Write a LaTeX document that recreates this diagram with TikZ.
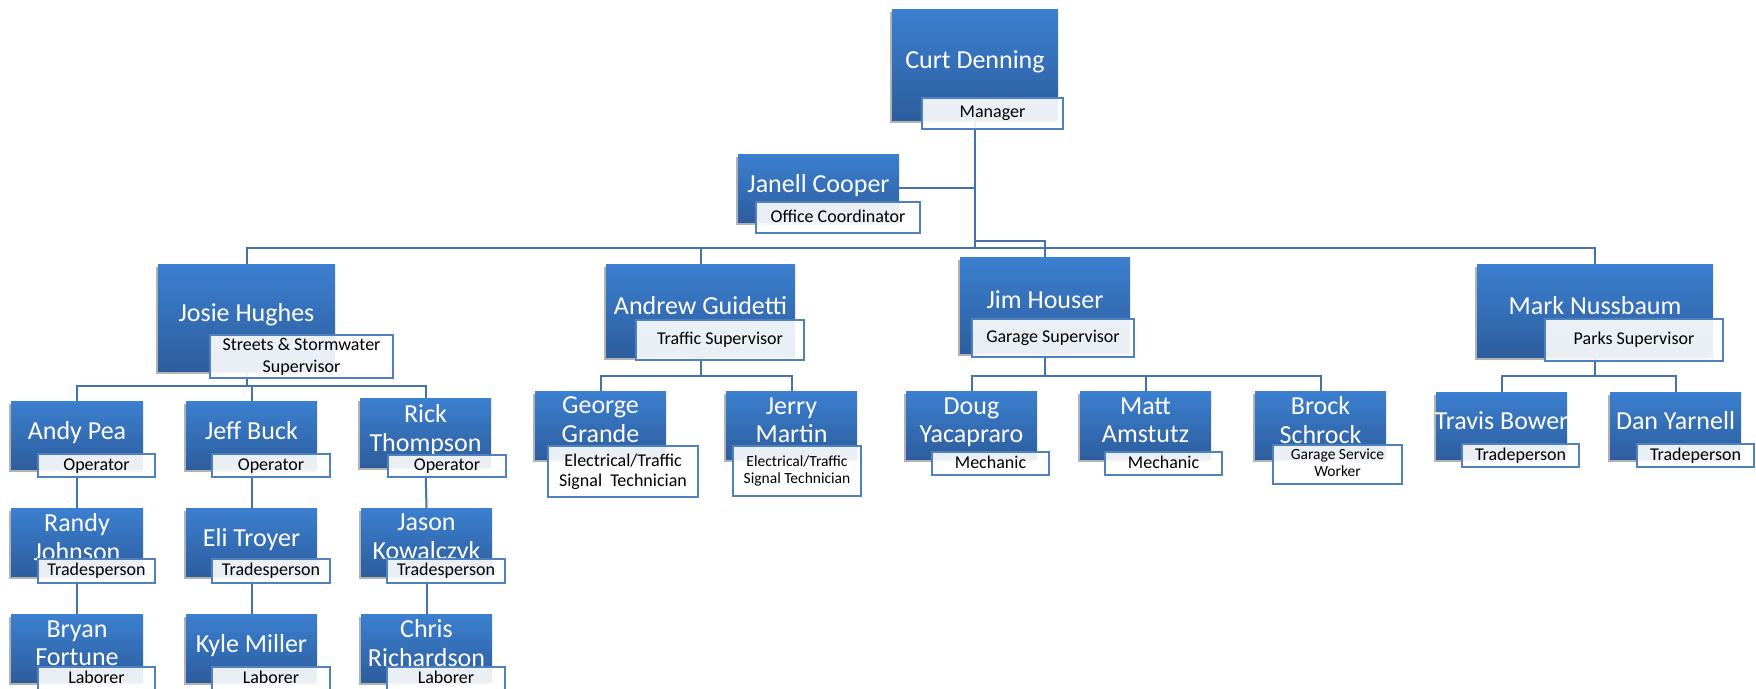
\documentclass[tikz,border=0pt]{standalone}
\usepackage{fontspec}
\setmainfont{Carlito}
\usetikzlibrary{shadows}
\pgfdeclarelayer{bg}
\pgfsetlayers{bg,main}
\definecolor{boxtop}{RGB}{60,128,208}
\definecolor{boxbot}{RGB}{45,93,158}
\definecolor{lblline}{RGB}{79,129,189}
\definecolor{connc}{RGB}{70,114,172}
\newcommand\fnm{\fontsize{26}{28}\selectfont}
\newcommand\flb{\fontsize{18}{22}\selectfont}
\newcommand\flbb{\fontsize{18}{20}\selectfont}
\newcommand\fsm{\fontsize{15.5}{17}\selectfont}
\newcommand\nmst{\rule[-10pt]{0pt}{26pt}}
\newcommand\lbst{\rule[-3pt]{0pt}{15pt}}
\newcommand\smst{\rule[-3pt]{0pt}{13pt}}
\tikzset{
  pbox/.style={rectangle, inner sep=0pt, draw=none, top color=boxtop, bottom color=boxbot,
    drop shadow={shadow xshift=-2.5pt, shadow yshift=-3pt, opacity=0.3, fill=black}},
  pname/.style={inner sep=0pt, text=white, font=\fnm, align=center},
  plabel/.style={rectangle, inner sep=0pt, draw=lblline, line width=1.5pt, fill=white,
    fill opacity=0.9, text opacity=1, text=black, font=\flb, align=center},
  conn/.style={draw=connc, line width=2pt},
}
\newcommand\person[6]{%
  \node[pbox, minimum width={(#4-#2)*1pt}, minimum height={(#5-#3)*1pt}] (#1) at ({(#2+#4)/2},{(#3+#5)/2}) {};
  \node[pname] (#1n) at (#1.center) {#6};}
\newcommand\plab[7][]{%
  \node[plabel, #1, minimum width={(#5-#3)*1pt}, minimum height={(#6-#4)*1pt}] (#2) at ({(#3+#5)/2},{(#4+#6)/2}) {#7};}
\begin{document}
\begin{tikzpicture}[x=1pt, y=-1pt]
\useasboundingbox (0,0) rectangle (1756,688);
\clip (0,0) rectangle (1756,688);

% level 0-1
\person{curt}{892}{9}{1058}{120}{\nmst Curt Denning}
\plab{curtL}{922}{98}{1063}{129}{\lbst Manager}
\person{janell}{738}{154}{899}{222}{\nmst Janell Cooper}
\plab{janellL}{756}{202}{920}{233}{\lbst Office Coordinator}
\person{josie}{158}{264}{335}{371}{\nmst Josie Hughes}
\plab{josieL}{210}{335}{393}{378}{\lbst Streets \& Stormwater\\\lbst Supervisor}
\person{andrew}{606}{264}{795}{357}{\nmst Andrew Guidetti}
\plab{andrewL}{636}{320}{804}{360}{\lbst Traffic Supervisor}
\person{jim}{960}{257}{1130}{353}{\nmst Jim Houser}
\plab{jimL}{972}{319}{1134}{357}{\lbst Garage Supervisor}
\person{mark}{1477}{264}{1713}{357}{\nmst Mark Nussbaum}
\plab{markL}{1545}{319}{1723}{361}{\lbst Parks Supervisor}

% level 2
\person{andy}{11}{401}{143}{469}{\nmst Andy Pea}
\plab{andyL}{38}{454}{155}{477}{\lbst Operator}
\person{jeff}{186}{401}{317}{469}{\nmst Jeff Buck}
\plab{jeffL}{212}{454}{330}{477}{\lbst Operator}
\person{rick}{360}{398}{491}{467}{\nmst Rick\\\nmst Thompson}
\plab{rickL}{388}{455}{506}{477}{\lbst Operator}
\person{george}{535}{391}{666}{459}{\nmst George\\\nmst Grande}
\plab[font=\flbb]{georgeL}{548}{446}{698}{497}{\lbst Electrical/Traffic\\\lbst Signal\ \ Technician}
\person{jerry}{726}{391}{857}{459}{\nmst Jerry\\\nmst Martin}
\plab[font=\fsm]{jerryL}{733}{446}{861}{496}{\smst Electrical/Traffic\\\smst Signal Technician}
\person{doug}{906}{391}{1037}{459}{\nmst Doug\\\nmst Yacapraro}
\plab{dougL}{932}{452}{1049}{475}{\lbst Mechanic}
\person{matt}{1080}{391}{1211}{459}{\nmst Matt\\\nmst Amstutz}
\plab{mattL}{1105}{452}{1222}{475}{\lbst Mechanic}
\person{brock}{1255}{391}{1386}{459}{\nmst Brock\\\nmst Schrock}
\plab[font=\fsm]{brockL}{1273}{445}{1402}{484}{\smst Garage Service\\\smst Worker}
\person{travis}{1436}{392}{1567}{459}{\nmst Travis Bower}
\plab{travisL}{1462}{444}{1579}{467}{\lbst Tradeperson}
\person{dan}{1610}{392}{1741}{459}{\nmst Dan Yarnell}
\plab{danL}{1637}{444}{1754}{467}{\lbst Tradeperson}

% level 3-4
\person{randy}{11}{508}{143}{576}{\nmst Randy\\\nmst Johnson}
\plab{randyL}{38}{559}{155}{583}{\lbst Tradesperson}
\person{eli}{186}{508}{317}{576}{\nmst Eli Troyer}
\plab{eliL}{212}{559}{330}{583}{\lbst Tradesperson}
\person{jason}{361}{508}{492}{576}{\nmst Jason\\\nmst Kowalczyk}
\plab{jasonL}{387}{559}{505}{583}{\lbst Tradesperson}
\person{bryan}{11}{614}{143}{682}{\nmst Bryan\\\nmst Fortune}
\plab{bryanL}{38}{667}{155}{691}{\lbst Laborer}
\person{kyle}{186}{614}{317}{682}{\nmst Kyle Miller}
\plab{kyleL}{212}{667}{330}{691}{\lbst Laborer}
\person{chris}{361}{614}{492}{682}{\nmst Chris\\\nmst Richardson}
\plab{chrisL}{387}{667}{505}{691}{\lbst Laborer}

% connectors
\begin{pgfonlayer}{bg}
\coordinate (bus) at (975,248);
\coordinate (jimj) at (975,241);
\draw[conn] (curt.south) -- (bus);
\draw[conn] (janell.east) -- (janell.east -| curt.south);
\draw[conn] (bus) -| (josie.north);
\draw[conn] (bus) -| (andrew.north);
\draw[conn] (bus) -| (mark.north);
\draw[conn] (jimj) -| (jim.north);

\coordinate (jsb) at ([yshift=-15pt]josie.south);
\draw[conn] (josie.south) -- (jsb);
\draw[conn] (jsb) -| (andy.north);
\draw[conn] (jsb) -| (jeff.north);
\draw[conn] (jsb) -| (rick.north);

\coordinate (asb) at ([yshift=-19pt]andrew.south);
\draw[conn] (andrew.south) -- (asb);
\draw[conn] (asb) -| (george.north);
\draw[conn] (asb) -| (jerry.north);

\coordinate (jhb) at ([yshift=-23pt]jim.south);
\draw[conn] (jim.south) -- (jhb);
\draw[conn] (jhb) -| (doug.north);
\draw[conn] (jhb) -| (matt.north);
\draw[conn] (jhb) -| (brock.north);

\coordinate (msb) at ([yshift=-19pt]mark.south);
\draw[conn] (mark.south) -- (msb);
\draw[conn] (msb) -| (travis.north);
\draw[conn] (msb) -| (dan.north);

\draw[conn] (andy.south) -- (randy.north);
\draw[conn] (randy.south) -- (bryan.north);
\draw[conn] (jeff.south) -- (eli.north);
\draw[conn] (eli.south) -- (kyle.north);
\draw[conn] (rick.south) -- (jason.north);
\draw[conn] (jason.south) -- (chris.north);
\end{pgfonlayer}
\end{tikzpicture}
\end{document}
